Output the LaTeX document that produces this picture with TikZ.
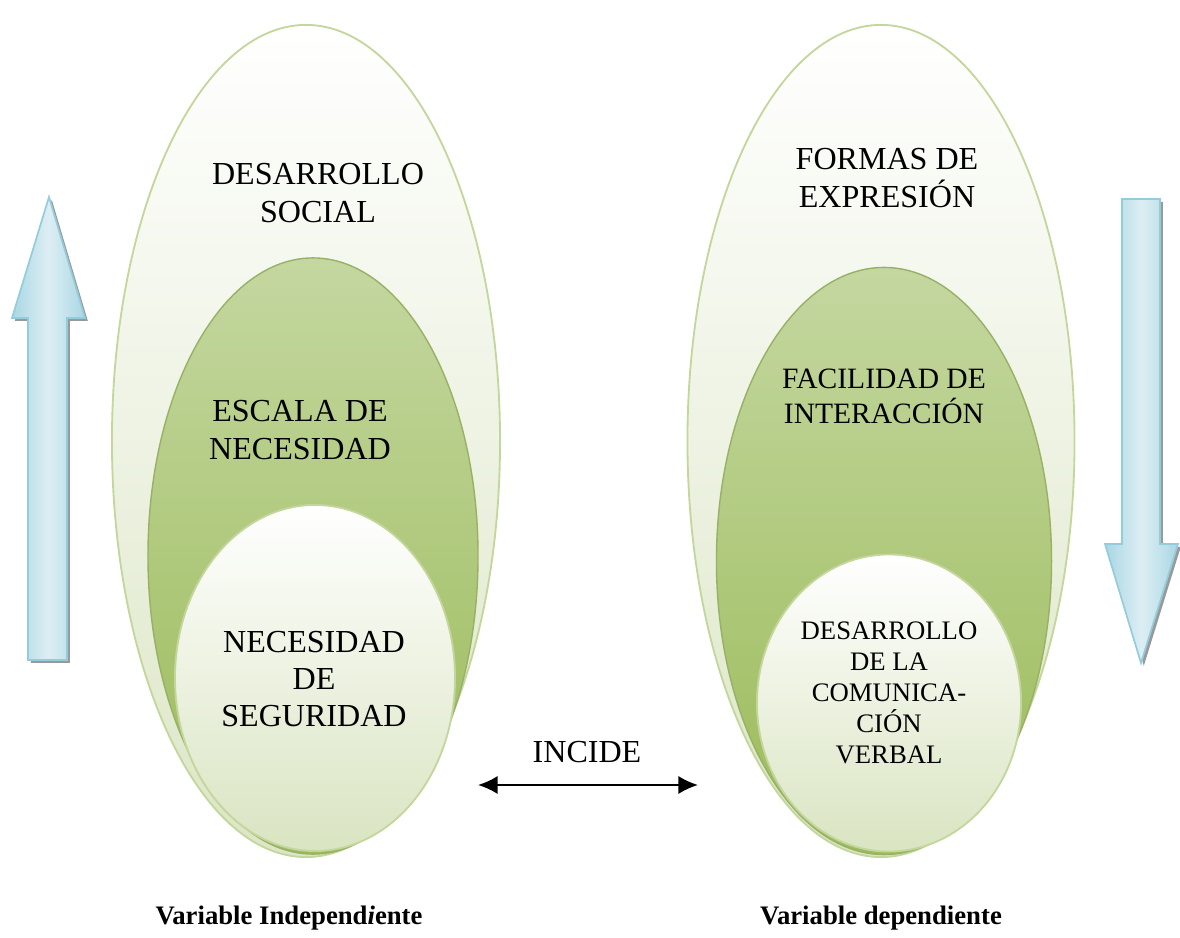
\documentclass[tikz,border=0pt]{standalone}
\usepackage{fontspec}
\setmainfont{Liberation Serif}
\usetikzlibrary{shapes,positioning,arrows.meta}

\definecolor{verdeborde}{HTML}{C3D69B}
\definecolor{verdepalido}{HTML}{DCE6C6}
\definecolor{verdeclaro}{HTML}{C4D7A0}
\definecolor{verdemedio}{HTML}{9BBB59}
\definecolor{verdeoscuro}{HTML}{7E9E3E}
\definecolor{azulborde}{HTML}{93CDDD}
\definecolor{azulclaro}{HTML}{DDEEF4}
\definecolor{azulmedio}{HTML}{A9D7E3}

\begin{document}
\begin{tikzpicture}
	[x=0.025cm, y=-0.025cm, >={Latex[length=14pt,width=13pt]},
	 externa/.style={ellipse, inner sep=0pt, draw=verdeborde, line width=1.3pt,
		top color=white, bottom color=verdepalido},
	 media/.style={ellipse, inner sep=0pt, draw=verdeoscuro!80, line width=1pt,
		top color=verdeclaro, bottom color=verdemedio},
	 interna/.style={ellipse, inner sep=0pt, draw=verdeborde, line width=1.3pt,
		top color=white, bottom color=verdepalido!90!verdeborde},
	 texto/.style={align=center, font=\fontsize{22.8}{26.5}\selectfont},
	 textochico/.style={align=center, font=\fontsize{19}{22}\selectfont},
	 flecha/.style={draw=azulborde, line width=1.2pt, left color=azulmedio,
		right color=azulmedio, middle color=azulclaro},
	 sombra/.style={fill=black!40, xshift=2pt, yshift=-2pt}]
\useasboundingbox (0,0) rectangle (1180,938);

% variable independiente
\node[externa, minimum width=9.7cm, minimum height=20.8cm] (vi) at (306,441) {};
\node[media, minimum width=8.25cm, minimum height=14.9cm] (escala) at (313,556) {};
\node[interna, minimum width=7cm, minimum height=8.65cm] (seguridad) at (315,678) {};

\node[texto] (tdes) at (318,193) {DESARROLLO\\SOCIAL};
\node[texto] (tesc) at (300,430) {ESCALA DE\\NECESIDAD};
\node[texto] (tseg) at (314,679) {NECESIDAD\\DE\\SEGURIDAD};

% variable dependiente
\node[externa, minimum width=9.675cm, minimum height=20.8cm] (vd) at (881,441) {};
\node[media, minimum width=8.375cm, minimum height=14.675cm] (facilidad) at (884,561) {};
\node[interna, minimum width=6.6cm, minimum height=7.425cm] (verbal) at (889,703) {};

\node[texto] (tfor) at (887,178) {FORMAS DE\\EXPRESIÓN};
\node[texto, font=\fontsize{21}{25}\selectfont] (tfac) at (884,396) {FACILIDAD DE\\INTERACCIÓN};
\node[textochico] (tver) at (889,693) {DESARROLLO\\DE LA\\COMUNICA-\\CIÓN\\VERBAL};

% flechas laterales
\fill[sombra] (28,660) -- (28,318) -- (12,318) -- (49,197) -- (85,318) -- (67,318) -- (67,660) -- cycle;
\draw[flecha] (28,660) -- (28,318) -- (12,318) -- (49,197) -- (85,318) -- (67,318) -- (67,660) -- cycle;
\fill[sombra] (1122,199) -- (1160,199) -- (1160,544) -- (1178,544) -- (1141,663) -- (1105,544) -- (1122,544) -- cycle;
\draw[flecha] (1122,199) -- (1160,199) -- (1160,544) -- (1178,544) -- (1141,663) -- (1105,544) -- (1122,544) -- cycle;

% relacion
\coordinate (incI) at (478,785);
\coordinate (incD) at (698,785);
\node[texto] (incide) at (587,752) {INCIDE};
\draw[<->, line width=1.5pt] (incI) -- (incD);

\node[font=\fontsize{19}{23}\selectfont\bfseries] (lvi) at (289,918) {Variable Independ\textit{i}ente};
\node[font=\fontsize{19}{23}\selectfont\bfseries] (lvd) at (881,918) {Variable dependiente};

\end{tikzpicture}
\end{document}
